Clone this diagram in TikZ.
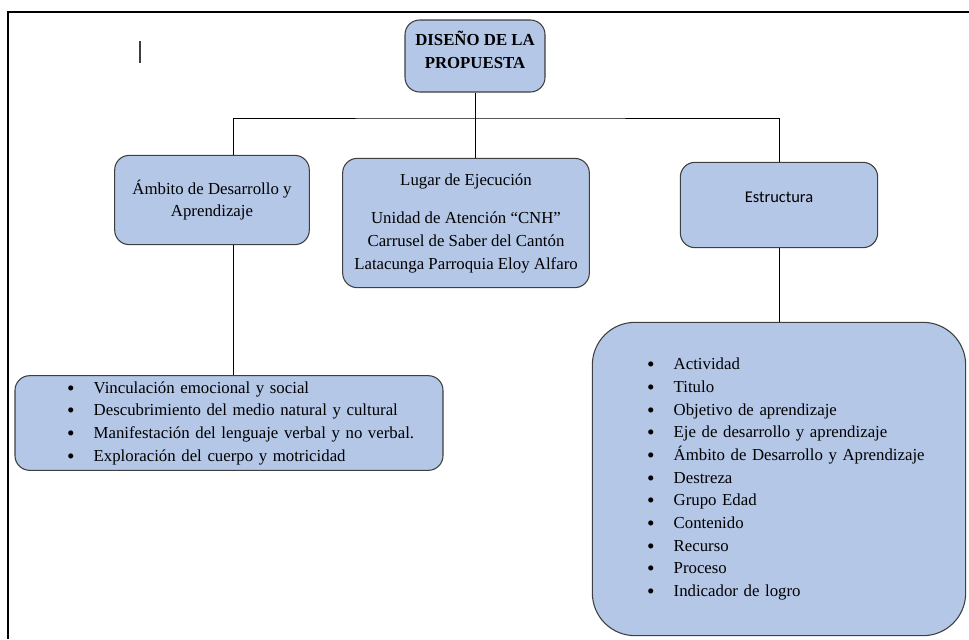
\documentclass[tikz,border=0pt]{standalone}
\usepackage{fontspec}
\setmainfont{Liberation Serif}
\newfontfamily\calibri{Carlito}
\usetikzlibrary{positioning,calc}

\definecolor{celeste}{HTML}{B4C7E7}
\definecolor{borde}{HTML}{3F3F3F}

\tikzset{
  caja/.style={rectangle, draw=borde, fill=celeste, line width=0.8pt, rounded corners=11pt, align=center, inner sep=0pt, font=\fontsize{12.6}{17}\selectfont},
  lista/.style={caja, align=left},
  enlace/.style={draw=black, line width=0.6pt}
}
\newcommand{\punto}[1]{\hspace*{#1}\makebox[20pt][l]{\raisebox{-1.6pt}{\fontsize{16}{16}\selectfont\textbullet}}}

\begin{document}
\begin{tikzpicture}[x=0.75pt,y=-0.75pt]
\useasboundingbox (0,0) rectangle (969,639);

% marco de la hoja
\draw[line width=1.5pt] (969,12) -- (8,12) -- (8,639);
\draw[line width=0.8pt, draw=borde] (140,41) -- (140,63);

\node[caja, minimum width=105pt, minimum height=54pt, text depth=9pt] (propuesta) at (475,56) {\textbf{DISEÑO DE LA}\\\textbf{PROPUESTA}};

\node[caja, minimum width=146pt, minimum height=67pt] (ambito) at (212,200) {Ámbito de Desarrollo y\\Aprendizaje};
\node[caja, minimum width=185pt, minimum height=97pt] (lugar) at (466,223) {Lugar de Ejecución\\[12pt]Unidad de Atención “CNH”\\Carrusel de Saber del Cantón\\Latacunga Parroquia Eloy Alfaro};
\node[caja, minimum width=148pt, minimum height=64pt, text depth=12pt, font=\calibri\fontsize{12.3}{15}\selectfont] (estructura) at (779,205) {Estructura};

\node[lista, minimum width=321pt, minimum height=71pt, text width=321pt] (vinculos) at (229,423) {%
\punto{39pt}Vinculación emocional y social\\
\punto{39pt}Descubrimiento del medio natural y cultural\\
\punto{39pt}Manifestación del lenguaje verbal y no verbal.\\
\punto{39pt}Exploración del cuerpo y motricidad};

\node[lista, minimum width=280pt, minimum height=235pt, text width=280pt, rounded corners=32pt] (elementos) at (779,479) {%
\punto{41pt}Actividad\\
\punto{41pt}Titulo\\
\punto{41pt}Objetivo de aprendizaje\\
\punto{41pt}Eje de desarrollo y aprendizaje\\
\punto{41pt}Ámbito de Desarrollo y Aprendizaje\\
\punto{41pt}Destreza\\
\punto{41pt}Grupo Edad\\
\punto{41pt}Contenido\\
\punto{41pt}Recurso\\
\punto{41pt}Proceso\\
\punto{41pt}Indicador de logro};

\coordinate (barra) at (475,118);
\draw[enlace] (propuesta) -- (barra);
\draw[enlace] (barra) -- (barra |- lugar.north);
\draw[enlace] (ambito.north -| 233,0) |- (barra) -| (estructura.north);
\draw[enlace] (ambito.south -| 233,0) -- (vinculos.north -| 233,0);
\draw[enlace] (estructura) -- (elementos);

\end{tikzpicture}
\end{document}
